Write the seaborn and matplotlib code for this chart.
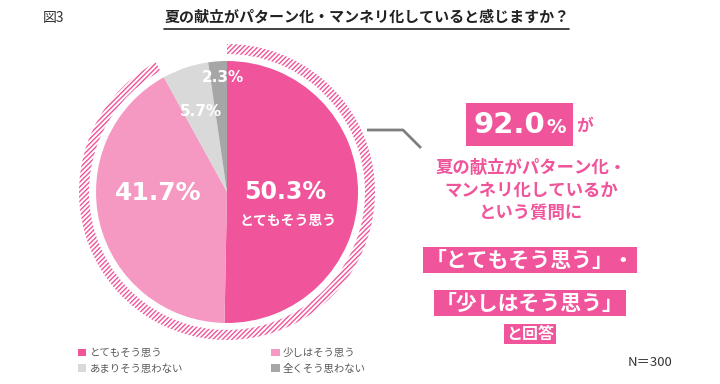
import matplotlib
matplotlib.use('Agg')
import matplotlib.pyplot as plt
import seaborn as sns
from matplotlib.patches import Patch, Rectangle

# data
categories = ['とてもそう思う', '少しはそう思う', 'あまりそう思わない', '全くそう思わない']
values = [50.3, 41.7, 5.7, 2.3]
colors = ['#F0549B', '#F598C2', '#D9D9D9', '#A6A6A6']
title = '夏の献立がパターン化・マンネリ化していると感じますか？'
n_label = 'N＝300'

sns.set_theme(style='white')
plt.rcParams['font.family'] = ['Noto Sans CJK JP', 'DejaVu Sans']
plt.rcParams['hatch.linewidth'] = 1.0
PINK = colors[0]
W, H = 720, 384


def Y(py):
    # pixel row -> data y
    return H - py


fig = plt.figure(figsize=(7.2, 3.84), dpi=100)
ax = fig.add_axes([0, 0, 1, 1])

cx, cy, r = 227, Y(192), 131

wedges, _ = ax.pie(values, colors=colors, startangle=90, counterclock=False,
                   center=(cx, cy), radius=r, wedgeprops=dict(linewidth=0))

# hatched ring for "agree" share
agree = values[0] + values[1]
ring, _ = ax.pie([agree, 100 - agree], startangle=90, counterclock=False,
                 center=(cx, cy), radius=148, wedgeprops=dict(width=10, linewidth=0))
ring[0].set_facecolor('white')
ring[0].set_edgecolor(PINK)
ring[0].set_hatch('///////')
ring[0].set_linewidth(0)
ring[1].set_visible(False)

ax.set_xlim(0, W)
ax.set_ylim(0, H)
ax.set_aspect('auto')
ax.axis('off')

num = dict(family='DejaVu Sans', weight='bold', color='white', ha='center', va='center')
ax.text(285, Y(192), f'{values[0]}%', fontsize=17, **num)
ax.text(288, Y(221), categories[0], fontsize=10, color='white', weight='bold',
        ha='center', va='center')
ax.text(158, Y(193), f'{values[1]}%', fontsize=18, **num)
ax.text(201, Y(112), f'{values[2]}%', fontsize=11, **num)
ax.text(223, Y(78), f'{values[3]}%', fontsize=11, **num)

# title
ax.text(54, Y(18), '図3', fontsize=10, ha='center', va='center', color='#333333')
ax.text(367, Y(17), title, fontsize=10.8, weight='bold', ha='center', va='center',
        color='#222222')
ax.plot([164, 569], [Y(29), Y(29)], color='#222222', lw=1.2)

# callout line
ax.plot([367, 403, 421], [Y(130), Y(130), Y(148)], color='#7F7F7F', lw=2,
        solid_capstyle='butt')

# right side message
ax.add_patch(Rectangle((466, Y(146)), 107, 43, color=PINK, lw=0))
ax.text(545, Y(133), f'{agree:.1f}', fontsize=21, family='DejaVu Sans',
        weight='bold', color='white', ha='right', va='baseline')
ax.text(546, Y(133), '%', fontsize=14, family='DejaVu Sans',
        weight='bold', color='white', ha='left', va='baseline')
ax.text(584, Y(126), 'が', fontsize=12, weight='bold', color=PINK,
        ha='center', va='center')

for txt, py in [('夏の献立がパターン化・', 168), ('マンネリ化しているか', 191),
                ('という質問に', 213)]:
    ax.text(531, Y(py), txt, fontsize=12.5, weight='bold', color=PINK,
            ha='center', va='center')

box = dict(boxstyle='square,pad=0.12', facecolor=PINK, edgecolor='none')
ax.text(530, Y(260), f'「{categories[0]}」・', fontsize=15, weight='bold',
        color='white', ha='center', va='center', bbox=box)
ax.text(530, Y(303), f'「{categories[1]}」', fontsize=15, weight='bold',
        color='white', ha='center', va='center', bbox=box)
ax.text(530, Y(334), 'と回答', fontsize=11.5, weight='bold', color='white',
        ha='center', va='center', bbox=dict(boxstyle='square,pad=0.15',
                                              facecolor=PINK, edgecolor='none'))

# legend
handles = [Patch(facecolor=c, edgecolor='none') for c in colors]
order = [0, 2, 1, 3]
leg = ax.legend([handles[i] for i in order], [categories[i] for i in order],
                ncol=2, loc='upper left', bbox_to_anchor=(78 / W, 1 - 348 / H),
                frameon=False, fontsize=7.5, handlelength=0.8, handleheight=0.8,
                handletextpad=0.3, columnspacing=8.5, labelspacing=0.55,
                borderpad=0, borderaxespad=0)
for t in leg.get_texts():
    t.set_color('#595959')

ax.text(650, Y(362), n_label, fontsize=9.5, ha='center', va='center', color='#333333')

fig.savefig('out.png', dpi=100)
plt.close(fig)
